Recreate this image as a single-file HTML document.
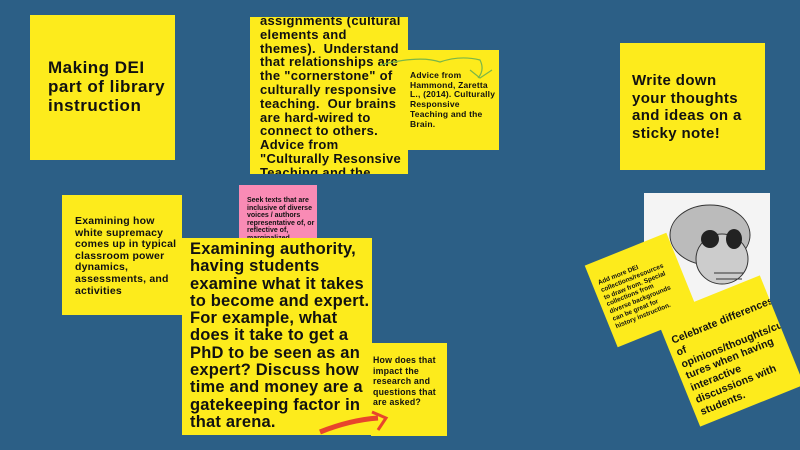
<!DOCTYPE html>
<html><head><meta charset="utf-8"><style>
body{margin:0;width:800px;height:450px;background:#2c5f86;position:relative;overflow:hidden;font-family:"Liberation Sans",sans-serif;font-weight:bold;color:#111}
.n{position:absolute;background:#fdeb1c;box-sizing:border-box;overflow:hidden}
.n p{margin:0;position:absolute;white-space:nowrap}
</style></head><body>
<div class="n" style="left:30px;top:15px;width:145px;height:145px"><p style="left:18px;top:43px;font-size:17px;line-height:19px;letter-spacing:0.5px">Making DEI<br>part of library<br>instruction</p></div>
<div class="n" style="left:250px;top:17px;width:158px;height:157px"><p style="left:10px;top:-3px;font-size:13px;line-height:13.8px;letter-spacing:0.3px">assignments (cultural<br>elements and<br>themes).&nbsp; Understand<br>that relationships are<br>the "cornerstone" of<br>culturally responsive<br>teaching.&nbsp; Our brains<br>are hard-wired to<br>connect to others.<br>Advice from<br>"Culturally Resonsive<br>Teaching and the</p></div>
<div class="n" style="left:407px;top:50px;width:92px;height:100px"><p style="left:3px;top:21px;font-size:8.5px;line-height:9.7px;letter-spacing:0.2px">Advice from<br>Hammond, Zaretta<br>L., (2014). Culturally<br>Responsive<br>Teaching and the<br>Brain.</p></div>
<svg style="position:absolute;left:0;top:0" width="800" height="450"><path d="M380 65 Q420 55 440 62 Q460 55 480 60 Q485 70 478 78 M470 70 L480 78 L492 70" stroke="#7ab648" stroke-width="1.2" fill="none"/></svg>
<div class="n" style="left:620px;top:43px;width:145px;height:127px"><p style="left:12px;top:29px;font-size:15px;line-height:17.7px;letter-spacing:0.4px">Write down<br>your thoughts<br>and ideas on a<br>sticky note!</p></div>
<div class="n" style="left:62px;top:195px;width:120px;height:120px"><p style="left:13px;top:21px;font-size:10.5px;line-height:11.6px;letter-spacing:0.2px">Examining how<br>white supremacy<br>comes up in typical<br>classroom power<br>dynamics,<br>assessments, and<br>activities</p></div>
<div class="n" style="left:239px;top:185px;width:78px;height:60px;background:#f98bb5"><p style="left:8px;top:12px;font-size:7px;line-height:7.6px">Seek texts that are<br>inclusive of diverse<br>voices / authors<br>representative of, or<br>reflective of,<br>marginalized</p></div>
<div class="n" style="left:182px;top:238px;width:190px;height:197px"><p style="left:8px;top:3px;font-size:16.5px;line-height:17.3px;letter-spacing:0.2px">Examining authority,<br>having students<br>examine what it takes<br>to become and expert.<br>For example, what<br>does it take to get a<br>PhD to be seen as an<br>expert? Discuss how<br>time and money are a<br>gatekeeping factor in<br>that arena.</p></div>
<div class="n" style="left:371px;top:343px;width:76px;height:93px"><p style="left:2px;top:12px;font-size:8.8px;line-height:10.5px;letter-spacing:0.2px">How does that<br>impact the<br>research and<br>questions that<br>are asked?</p></div>
<svg style="position:absolute;left:0;top:0" width="800" height="450"><path d="M320 432 Q350 420 378 418" stroke="#e8452c" stroke-width="5" fill="none"/><path d="M372 412 L386 418 L378 430" stroke="#e8452c" stroke-width="3" fill="none"/></svg>
<div style="position:absolute;left:644px;top:193px;width:126px;height:110px;background:#f4f4f4"></div>
<svg style="position:absolute;left:644px;top:193px" width="126" height="110"><ellipse cx="66" cy="42" rx="40" ry="30" fill="#bbb" stroke="#333"/><ellipse cx="78" cy="66" rx="26" ry="25" fill="#ccc" stroke="#333"/><ellipse cx="66" cy="46" rx="9" ry="9" fill="#222"/><ellipse cx="90" cy="46" rx="8" ry="10" fill="#222"/><path d="M70 80 h30 M72 86 h26" stroke="#333"/></svg>
<div class="n" style="left:598px;top:246px;width:88px;height:88px;transform:rotate(-22deg)"><p style="left:6px;top:18px;font-size:6.5px;line-height:7.8px">Add more DEI<br>collections/resources<br>to draw from. Special<br>collections from<br>diverse backgrounds<br>can be great for<br>history instruction.</p></div>
<div class="n" style="left:674px;top:292px;width:112px;height:118px;transform:rotate(-22deg)"><p style="left:6px;top:22px;font-size:10.5px;line-height:12.8px;letter-spacing:0.1px">Celebrate differences<br>of<br>opinions/thoughts/cul<br>tures when having<br>interactive<br>discussions with<br>students.</p></div>
</body></html>
